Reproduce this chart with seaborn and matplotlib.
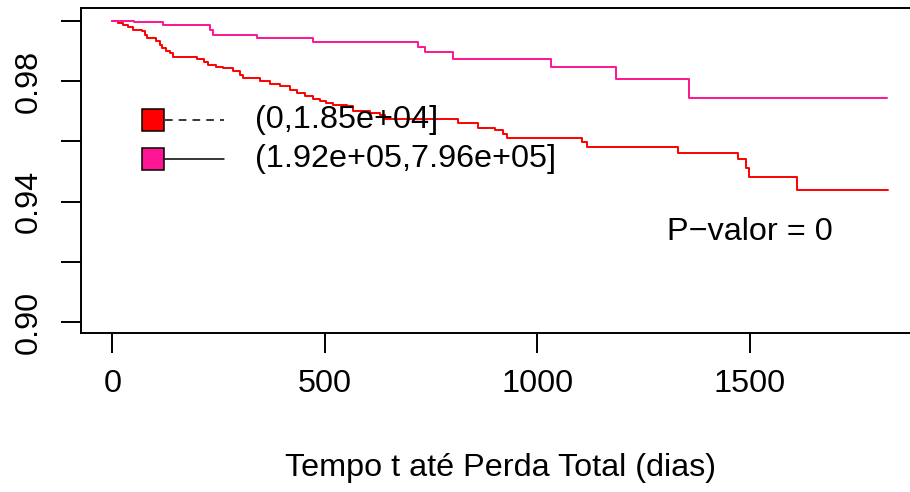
import matplotlib
matplotlib.use("Agg")
import matplotlib.pyplot as plt
import seaborn as sns
import pandas as pd
from matplotlib.lines import Line2D

# ---- data ----
group_labels = ["(0,1.85e+04]", "(1.92e+05,7.96e+05]"]
group_colors = ["#FF0000", "#FF1493"]
legend_styles = ["--", "-"]

times_low = [0, 13, 26, 37, 49, 69, 77, 81, 104, 112, 116, 126, 136, 144, 199, 216,
             226, 244, 261, 285, 300, 308, 348, 371, 395, 418, 434, 453, 473, 489,
             504, 519, 552, 567, 606, 630, 641, 813, 860, 900, 919, 928, 1104, 1116,
             1332, 1472, 1491, 1499, 1612, 1824]
surv_low = [1.0, 0.99934, 0.99867, 0.99784, 0.99701, 0.99645, 0.99535, 0.99425, 0.99312,
            0.99203, 0.99093, 0.99003, 0.98927, 0.98781, 0.98728, 0.98638, 0.98538,
            0.98472, 0.98429, 0.98316, 0.98206, 0.98096, 0.97983, 0.97907, 0.97817,
            0.97708, 0.97598, 0.97508, 0.97399, 0.97326, 0.97266, 0.97209, 0.97153,
            0.96987, 0.96944, 0.96877, 0.96734, 0.96601, 0.96455, 0.96379, 0.96236,
            0.96123, 0.95990, 0.95824, 0.95625, 0.95405, 0.95126, 0.94827, 0.94385,
            0.94385]

times_high = [0, 50, 120, 230, 238, 340, 473, 720, 736, 801, 1032, 1184, 1358, 1822]
surv_high = [1.0, 0.99944, 0.99867, 0.9970, 0.99535, 0.99425, 0.99279, 0.99113,
             0.98947, 0.98728, 0.98449, 0.98063, 0.97419, 0.97419]

x_ticks = [0, 500, 1000, 1500]
y_ticks = [0.90, 0.92, 0.94, 0.96, 0.98, 1.00]
y_tick_labels = ["0.90", "", "0.94", "", "0.98", ""]
x_label = "Tempo t até Perda Total (dias)"
p_text = "P\u2212valor = 0"

df = pd.concat([
    pd.DataFrame({"tempo": times_low, "surv": surv_low, "grupo": group_labels[0]}),
    pd.DataFrame({"tempo": times_high, "surv": surv_high, "grupo": group_labels[1]}),
], ignore_index=True)

# ---- figure ----
sns.set_style("white")
plt.rcParams["font.family"] = ["Liberation Sans", "DejaVu Sans"]
plt.rcParams["text.color"] = "black"
plt.rcParams["axes.labelcolor"] = "black"
FS = 23.3

W, H = 910, 492
fig = plt.figure(figsize=(W / 100, H / 100), dpi=100)
ax_l, ax_r, ax_t, ax_b = 81, 919.4, 8.3, 333.3
ax = fig.add_axes([ax_l / W, 1 - ax_b / H, (ax_r - ax_l) / W, (ax_b - ax_t) / H])

sns.lineplot(data=df, x="tempo", y="surv", hue="grupo", hue_order=group_labels,
             palette=dict(zip(group_labels, group_colors)), drawstyle="steps-post",
             linewidth=1.4, legend=False, ax=ax, estimator=None)

ax.set_xlim(-73.6, 1899)
ax.set_ylim(0.8963, 1.0041)
ax.set_xticks(x_ticks)
ax.set_xticklabels([str(v) for v in x_ticks], fontsize=FS)
ax.set_yticks(y_ticks)
ax.set_yticklabels(y_tick_labels, fontsize=FS, rotation=90, va="center")
ax.tick_params(axis="both", direction="out", length=14.5, width=1.4, color="black",
               labelcolor="black", bottom=True, left=True, top=False, right=False)
ax.tick_params(axis="x", pad=11)
ax.tick_params(axis="y", pad=12)

for sp in ax.spines.values():
    sp.set_visible(True)
    sp.set_color("black")
    sp.set_linewidth(1.4)

ax.set_xlabel(x_label, fontsize=FS, color="black")
ax.set_ylabel("")
ax.xaxis.label.set_va("center")
ax.xaxis.set_label_coords(0.5, (ax_b - 468) / (ax_b - ax_t))

ax.text(1500, 0.93, p_text, ha="center", va="center", fontsize=FS, color="black")

# ---- legend (R style: square then line) ----
def fx(px):
    return px / W

def fy(py):
    return 1 - py / H

rows_y = [120, 159]
for lab, col, ls, yy in zip(group_labels, group_colors, legend_styles, rows_y):
    fig.add_artist(Line2D([fx(165), fx(224)], [fy(yy), fy(yy)], color="black",
                          linestyle=ls, linewidth=1.1, dashes=(5, 4) if ls == "--" else (None, None),
                          transform=fig.transFigure))
    fig.add_artist(Line2D([fx(153)], [fy(yy)], marker="s", markersize=15.5,
                          markerfacecolor=col, markeredgecolor="black",
                          markeredgewidth=1.1, linestyle="none",
                          transform=fig.transFigure))
    fig.text(fx(255), fy(yy), lab, fontsize=FS, ha="left", va="center", color="black")

fig.savefig("out.png", dpi=100, facecolor="white")
